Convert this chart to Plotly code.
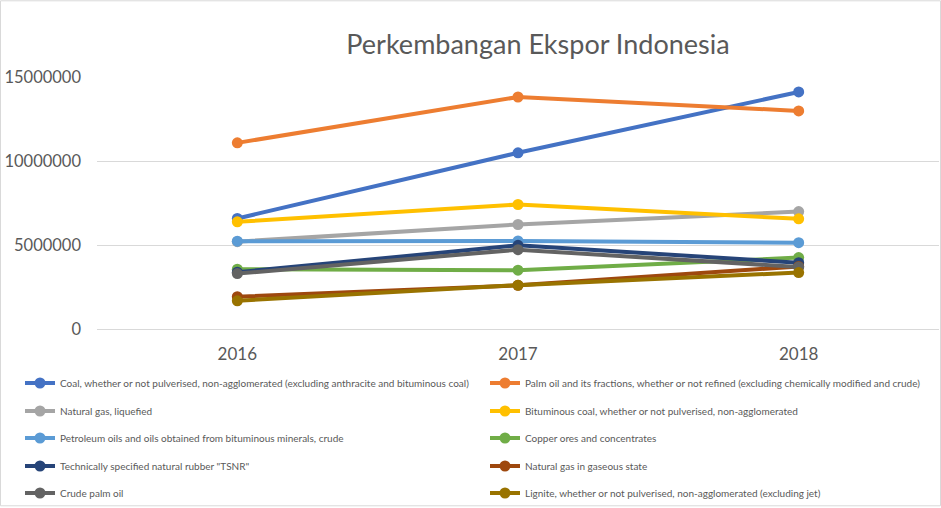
import plotly.graph_objects as go

years = ["2016", "2017", "2018"]

series_names = [
    "Coal, whether or not pulverised, non-agglomerated (excluding anthracite and bituminous coal)",
    "Palm oil and its fractions, whether or not refined (excluding chemically modified and crude)",
    "Natural gas, liquefied",
    "Bituminous coal, whether or not pulverised, non-agglomerated",
    "Petroleum oils and oils obtained from bituminous minerals, crude",
    "Copper ores and concentrates",
    "Technically specified natural rubber \"TSNR\"",
    "Natural gas in gaseous state",
    "Crude palm oil",
    "Lignite, whether or not pulverised, non-agglomerated (excluding jet)",
]

coal = [6580000, 10490000, 14110000]
palm_oil = [11080000, 13810000, 12980000]
lng = [5200000, 6220000, 6990000]
bituminous = [6380000, 7410000, 6560000]
petroleum = [5230000, 5240000, 5140000]
copper = [3560000, 3500000, 4250000]
tsnr = [3380000, 4980000, 3950000]
natgas = [1920000, 2600000, 3720000]
cpo = [3300000, 4720000, 3690000]
lignite = [1680000, 2610000, 3360000]

values = [coal, palm_oil, lng, bituminous, petroleum, copper, tsnr, natgas, cpo, lignite]
colors = ["#4472C4", "#ED7D31", "#A5A5A5", "#FFC000", "#5B9BD5",
          "#70AD47", "#264478", "#9E480E", "#636363", "#997300"]

W, H = 941, 508
ML, MR, MT, MB = 97, 2, 77, 178
PW = W - ML - MR
PH = H - MT - MB

def px_to_paper_x(px):
    return (px - ML) / PW

def px_to_paper_y(py):
    return (H - MB - py) / PH

font_family = "Lato, 'Open Sans', sans-serif"
text_color = "#595959"

fig = go.Figure()

row_y = [383, 411, 438, 466, 493]
col_x = [20, 485]

legend_layouts = {}
for i, (name, vals, col) in enumerate(zip(series_names, values, colors)):
    key = "legend" if i == 0 else f"legend{i+1}"
    fig.add_trace(go.Scatter(
        x=years, y=vals, name=name, mode="lines+markers",
        line=dict(color=col, width=4),
        marker=dict(color=col, size=11),
        legend=key, cliponaxis=False,
    ))
    r, c = divmod(i, 2)
    legend_layouts[key] = dict(
        x=px_to_paper_x(col_x[c]), y=px_to_paper_y(row_y[r]),
        xanchor="left", yanchor="middle",
        font=dict(family=font_family, size=10, color=text_color),
        bgcolor="rgba(0,0,0,0)", borderwidth=0,
        itemwidth=30,
    )

fig.update_layout(
    width=W, height=H,
    margin=dict(l=ML, r=MR, t=MT, b=MB),
    paper_bgcolor="white", plot_bgcolor="white",
    title=dict(text="Perkembangan Ekspor Indonesia",
               font=dict(family=font_family, size=27, color=text_color),
               x=538 / W, xanchor="center", y=1 - 45 / H, yanchor="middle"),
    showlegend=True,
    xaxis=dict(type="category", showgrid=False, showline=True,
               linecolor="#d9d9d9", linewidth=1, zeroline=False,
               tickfont=dict(family=font_family, size=17, color=text_color),
               ticks="", ticklabelstandoff=10, range=[-0.5, 2.5]),
    yaxis=dict(range=[0, 15000000], dtick=5000000, tickformat="d",
               showgrid=True, gridcolor="#d9d9d9", gridwidth=1,
               zeroline=False, showline=False,
               tickfont=dict(family=font_family, size=16.5, color=text_color),
               ticks="", ticklabelstandoff=15),
    **legend_layouts,
)

fig.add_shape(type="rect", xref="paper", yref="paper",
              x0=px_to_paper_x(0.5), x1=px_to_paper_x(W - 0.5),
              y0=px_to_paper_y(H - 0.5), y1=px_to_paper_y(0.5),
              line=dict(color="#d9d9d9", width=1), layer="below")

fig.write_html("out.html")
